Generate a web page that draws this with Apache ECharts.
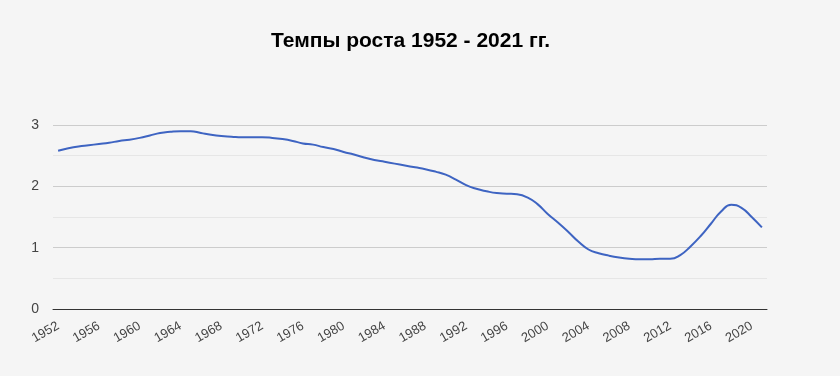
<!DOCTYPE html>
<html>
<head>
<meta charset="utf-8">
<script src="https://cdn.jsdelivr.net/npm/echarts@6/dist/echarts.min.js"></script>
<style>
  html, body { margin: 0; padding: 0; background: #f5f5f5; }
  #chart { width: 840px; height: 376px; }
</style>
</head>
<body>
<div id="chart"></div>
<script>
// years 1952..2021
const years = [];
for (let y = 1952; y <= 2021; y++) years.push(String(y));

const growthRate = [
    2.58, 2.62, 2.65, 2.67, 2.69, 2.71, 2.74, 2.76, 2.79, 2.83,
    2.87, 2.89, 2.90, 2.90, 2.87, 2.84, 2.82, 2.81, 2.80, 2.80,
    2.80, 2.79, 2.77, 2.74, 2.70, 2.68, 2.64, 2.61, 2.56, 2.52,
    2.47, 2.43, 2.40, 2.37, 2.34, 2.31, 2.28, 2.24, 2.19, 2.11,
    2.02, 1.96, 1.92, 1.89, 1.88, 1.87, 1.82, 1.71, 1.55, 1.41,
    1.26, 1.10, 0.97, 0.91, 0.87, 0.84, 0.82, 0.81, 0.81, 0.82,
    0.82, 0.88, 1.02, 1.19, 1.39, 1.59, 1.70, 1.65, 1.50, 1.33
];

const chart = echarts.init(document.getElementById('chart'));
chart.setOption({
    animation: false,
    backgroundColor: '#f5f5f5',
    title: {
        text: 'Темпы роста 1952 - 2021 гг.',
        left: 266,
        top: 26,
        textStyle: { fontFamily: 'Liberation Sans, Arial', fontSize: 21, fontWeight: 'bold', color: '#000' }
    },
    grid: { left: 53, right: 73, top: 125, bottom: 67 },
    xAxis: {
        type: 'category',
        data: years,
        boundaryGap: true,
        axisLine: { lineStyle: { color: '#333', width: 1 } },
        axisTick: { show: false },
        axisLabel: {
            interval: 3,
            rotate: 30,
            margin: 16,
            color: '#444',
            fontSize: 13,
            fontFamily: 'Liberation Sans, Arial'
        }
    },
    yAxis: {
        type: 'value',
        min: 0,
        max: 3,
        interval: 1,
        axisLine: { show: false },
        axisTick: { show: false },
        axisLabel: { color: '#444', fontSize: 14, margin: 14, fontFamily: 'Liberation Sans, Arial' },
        splitLine: { lineStyle: { color: '#cccccc' } },
        minorTick: { show: false, splitNumber: 2 },
        minorSplitLine: { show: true, lineStyle: { color: '#e6e6e6' } }
    },
    series: [{
        type: 'line',
        data: growthRate,
        smooth: true,
        symbol: 'none',
        lineStyle: { color: '#3e64c2', width: 2 }
    }]
});
</script>
</body>
</html>
